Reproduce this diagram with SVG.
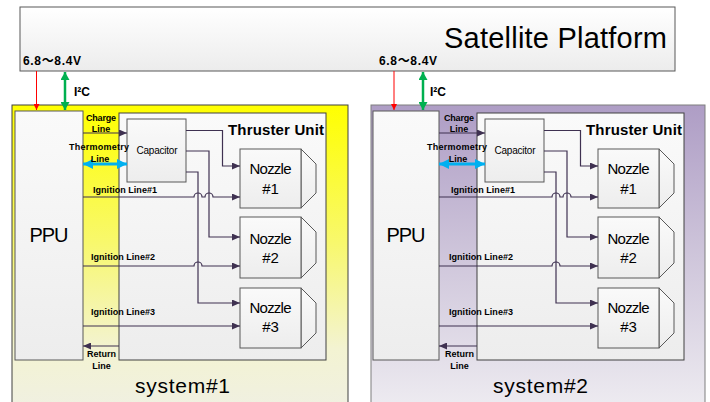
<svg xmlns="http://www.w3.org/2000/svg" width="710" height="402" viewBox="0 0 710 402">
<style>
text{font-family:"Liberation Sans",Arial,"Noto Sans CJK SC",sans-serif;fill:#000}
.b9{font-size:9px;font-weight:bold}
.b12{font-size:12px;font-weight:bold}
.nz{font-size:15px}
.box{stroke:#595959;stroke-width:1}
.con{fill:none;stroke:#3F3151;stroke-width:1.2}
</style>
<defs>
<linearGradient id="gPlat" x1="0" y1="0" x2="0" y2="1"><stop offset="0" stop-color="#FFFFFF"/><stop offset="1" stop-color="#ECECEC"/></linearGradient>
<linearGradient id="gBox" x1="0" y1="0" x2="0" y2="1"><stop offset="0" stop-color="#FAFAFA"/><stop offset="1" stop-color="#EDEDED"/></linearGradient>
<linearGradient id="gYel" x1="0" y1="0" x2="0" y2="1"><stop offset="0" stop-color="#FFFF00"/><stop offset="0.45" stop-color="#F8F86C"/><stop offset="0.8" stop-color="#F3F3D2"/><stop offset="1" stop-color="#F0F0E2"/></linearGradient>
<linearGradient id="gPur" x1="0" y1="0" x2="0" y2="1"><stop offset="0" stop-color="#AE9DC5"/><stop offset="0.5" stop-color="#CFC6DB"/><stop offset="1" stop-color="#EEECF1"/></linearGradient>
<marker id="aP" viewBox="0 0 8 7" refX="8" refY="3.5" markerWidth="8" markerHeight="7" markerUnits="userSpaceOnUse" orient="auto"><path d="M0,0 L8,3.5 L0,7 Z" fill="#3F3151"/></marker>
<marker id="aR" viewBox="0 0 6 6" refX="6" refY="3" markerWidth="6" markerHeight="6" markerUnits="userSpaceOnUse" orient="auto"><path d="M0,0 L6,3 L0,6 Z" fill="#FF0000"/></marker>
<marker id="aG" viewBox="0 0 8 9" refX="8" refY="4.5" markerWidth="8" markerHeight="9" markerUnits="userSpaceOnUse" orient="auto-start-reverse"><path d="M0,0 L8,4.5 L0,9 Z" fill="#00B050"/></marker>
<marker id="aB" viewBox="0 0 10 10" refX="10" refY="5" markerWidth="10" markerHeight="10" markerUnits="userSpaceOnUse" orient="auto-start-reverse"><path d="M0,0 L10,5 L0,10 Z" fill="#00B0F0"/></marker>
</defs>

<g id="satellite-platform">
<rect x="20" y="7" width="655" height="64" fill="url(#gPlat)" stroke="#595959"/>
<text x="667" y="48" text-anchor="end" font-size="29" textLength="223">Satellite Platform</text>
</g>

<g id="system1">
<rect x="12" y="105" width="336" height="305" fill="url(#gYel)" stroke="#404040"/>
<text x="182.5" y="393" text-anchor="middle" font-size="21" textLength="95">system#1</text>
</g>
<g id="system2">
<rect x="371" y="105" width="334" height="305" fill="url(#gPur)" stroke="#7F7F7F"/>
<text x="540.5" y="393" text-anchor="middle" font-size="21" textLength="95">system#2</text>
</g>

<g id="sys1-nodes">
<g id="thruster-unit-1"><rect x="119" y="113" width="207" height="247" fill="url(#gBox)" stroke="#404040"/><text x="324" y="135" text-anchor="end" font-size="15" font-weight="bold" textLength="96">Thruster Unit</text></g>
<g id="ppu-1"><rect x="15" y="111" width="68" height="249" fill="url(#gBox)" class="box"/><text x="49" y="242" text-anchor="middle" font-size="20" textLength="39">PPU</text></g>
<g id="capacitor-1"><rect x="127" y="119" width="59" height="63" fill="url(#gBox)" class="box"/><text x="157" y="154" text-anchor="middle" font-size="10" textLength="41">Capacitor</text></g>
<g id="nozzle1-1"><path d="M301,149 L316,164 L316,193 L301,208 Z" fill="url(#gBox)" class="box"/><rect x="240" y="149" width="61" height="59" fill="url(#gBox)" class="box"/><text x="270.5" y="174" text-anchor="middle" class="nz" textLength="42">Nozzle</text><text x="270.5" y="194" text-anchor="middle" class="nz">#1</text></g>
<g id="nozzle2-1"><path d="M301,217 L316,232 L316,263 L301,278 Z" fill="url(#gBox)" class="box"/><rect x="240" y="217" width="61" height="61" fill="url(#gBox)" class="box"/><text x="270.5" y="244" text-anchor="middle" class="nz" textLength="42">Nozzle</text><text x="270.5" y="263" text-anchor="middle" class="nz">#2</text></g>
<g id="nozzle3-1"><path d="M301,288 L316,303 L316,333 L301,348 Z" fill="url(#gBox)" class="box"/><rect x="240" y="288" width="61" height="60" fill="url(#gBox)" class="box"/><text x="270.5" y="313" text-anchor="middle" class="nz" textLength="42">Nozzle</text><text x="270.5" y="332" text-anchor="middle" class="nz">#3</text></g>
</g>

<g id="sys2-nodes" transform="translate(358,0)">
<g id="thruster-unit-2"><rect x="119" y="113" width="207" height="247" fill="url(#gBox)" stroke="#404040"/><text x="324" y="135" text-anchor="end" font-size="15" font-weight="bold" textLength="96">Thruster Unit</text></g>
<g id="ppu-2"><rect x="15" y="111" width="66" height="249" fill="url(#gBox)" class="box"/><text x="48" y="242" text-anchor="middle" font-size="20" textLength="39">PPU</text></g>
<g id="capacitor-2"><rect x="127" y="119" width="59" height="63" fill="url(#gBox)" class="box"/><text x="157" y="154" text-anchor="middle" font-size="10" textLength="41">Capacitor</text></g>
<g id="nozzle1-2"><path d="M301,149 L316,164 L316,193 L301,208 Z" fill="url(#gBox)" class="box"/><rect x="240" y="149" width="61" height="59" fill="url(#gBox)" class="box"/><text x="270.5" y="174" text-anchor="middle" class="nz" textLength="42">Nozzle</text><text x="270.5" y="194" text-anchor="middle" class="nz">#1</text></g>
<g id="nozzle2-2"><path d="M301,217 L316,232 L316,263 L301,278 Z" fill="url(#gBox)" class="box"/><rect x="240" y="217" width="61" height="61" fill="url(#gBox)" class="box"/><text x="270.5" y="244" text-anchor="middle" class="nz" textLength="42">Nozzle</text><text x="270.5" y="263" text-anchor="middle" class="nz">#2</text></g>
<g id="nozzle3-2"><path d="M301,288 L316,303 L316,333 L301,348 Z" fill="url(#gBox)" class="box"/><rect x="240" y="288" width="61" height="60" fill="url(#gBox)" class="box"/><text x="270.5" y="313" text-anchor="middle" class="nz" textLength="42">Nozzle</text><text x="270.5" y="332" text-anchor="middle" class="nz">#3</text></g>
</g>

<g id="connectors">
<g id="conn-sys1">
<path d="M36.5,71 V110" stroke="#FF0000" stroke-width="1" marker-end="url(#aR)"/>
<path d="M65,72 V110" stroke="#00B050" stroke-width="2.5" marker-start="url(#aG)" marker-end="url(#aG)"/>
<path d="M83,133 H127" class="con" marker-end="url(#aP)"/>
<path d="M83,164 H127" stroke="#00B0F0" stroke-width="3" marker-start="url(#aB)" marker-end="url(#aB)"/>
<path d="M186,130.5 H222.5 V166 H240" class="con" marker-end="url(#aP)"/>
<path d="M186,151 H209 V237 H240" class="con" marker-end="url(#aP)"/>
<path d="M186,172 H198 V303 H240" class="con" marker-end="url(#aP)"/>
<path d="M83,197 H194 a4,4 0 0 1 8,0 H205 a4,4 0 0 1 8,0 H240" class="con" marker-end="url(#aP)"/>
<path d="M83,266 H194 a4,4 0 0 1 8,0 H240" class="con" marker-end="url(#aP)"/>
<path d="M83,326 H240" class="con" marker-end="url(#aP)"/>
<path d="M119,346 H83" class="con" marker-end="url(#aP)"/>
</g>
<g id="conn-sys2" transform="translate(358,0)">
<path d="M36,71 V110" stroke="#FF0000" stroke-width="1" marker-end="url(#aR)"/>
<path d="M65,72 V110" stroke="#00B050" stroke-width="2.5" marker-start="url(#aG)" marker-end="url(#aG)"/>
<path d="M81,133 H127" class="con" marker-end="url(#aP)"/>
<path d="M81,164 H127" stroke="#00B0F0" stroke-width="3" marker-start="url(#aB)" marker-end="url(#aB)"/>
<path d="M186,130.5 H222.5 V166 H240" class="con" marker-end="url(#aP)"/>
<path d="M186,151 H209 V237 H240" class="con" marker-end="url(#aP)"/>
<path d="M186,172 H198 V303 H240" class="con" marker-end="url(#aP)"/>
<path d="M81,197 H194 a4,4 0 0 1 8,0 H205 a4,4 0 0 1 8,0 H240" class="con" marker-end="url(#aP)"/>
<path d="M81,266 H194 a4,4 0 0 1 8,0 H240" class="con" marker-end="url(#aP)"/>
<path d="M81,326 H240" class="con" marker-end="url(#aP)"/>
<path d="M119,346 H81" class="con" marker-end="url(#aP)"/>
</g>
</g>

<g id="labels-sys1">
<text x="23" y="65" class="b12" textLength="58">6.8～8.4V</text>
<text x="74" y="96" class="b12">I²C</text>
<text x="101" y="121" text-anchor="middle" class="b9" textLength="30">Charge</text>
<text x="101" y="132" text-anchor="middle" class="b9">Line</text>
<text x="99" y="150" text-anchor="middle" class="b9" textLength="60">Thermometry</text>
<text x="100" y="162" text-anchor="middle" class="b9">Line</text>
<text x="93" y="193" class="b9" textLength="64">Ignition Line#1</text>
<text x="91" y="260" class="b9" textLength="64">Ignition Line#2</text>
<text x="91" y="315" class="b9" textLength="64">Ignition Line#3</text>
<text x="101.5" y="357" text-anchor="middle" class="b9" textLength="29">Return</text>
<text x="101.5" y="369" text-anchor="middle" class="b9">Line</text>
</g>
<g id="labels-sys2" transform="translate(358,0)">
<text x="21" y="65" class="b12" textLength="58">6.8～8.4V</text>
<text x="72" y="96" class="b12">I²C</text>
<text x="101" y="121" text-anchor="middle" class="b9" textLength="30">Charge</text>
<text x="101" y="132" text-anchor="middle" class="b9">Line</text>
<text x="99" y="150" text-anchor="middle" class="b9" textLength="60">Thermometry</text>
<text x="100" y="162" text-anchor="middle" class="b9">Line</text>
<text x="93" y="193" class="b9" textLength="64">Ignition Line#1</text>
<text x="91" y="260" class="b9" textLength="64">Ignition Line#2</text>
<text x="91" y="315" class="b9" textLength="64">Ignition Line#3</text>
<text x="101.5" y="357" text-anchor="middle" class="b9" textLength="29">Return</text>
<text x="101.5" y="369" text-anchor="middle" class="b9">Line</text>
</g>
</svg>
